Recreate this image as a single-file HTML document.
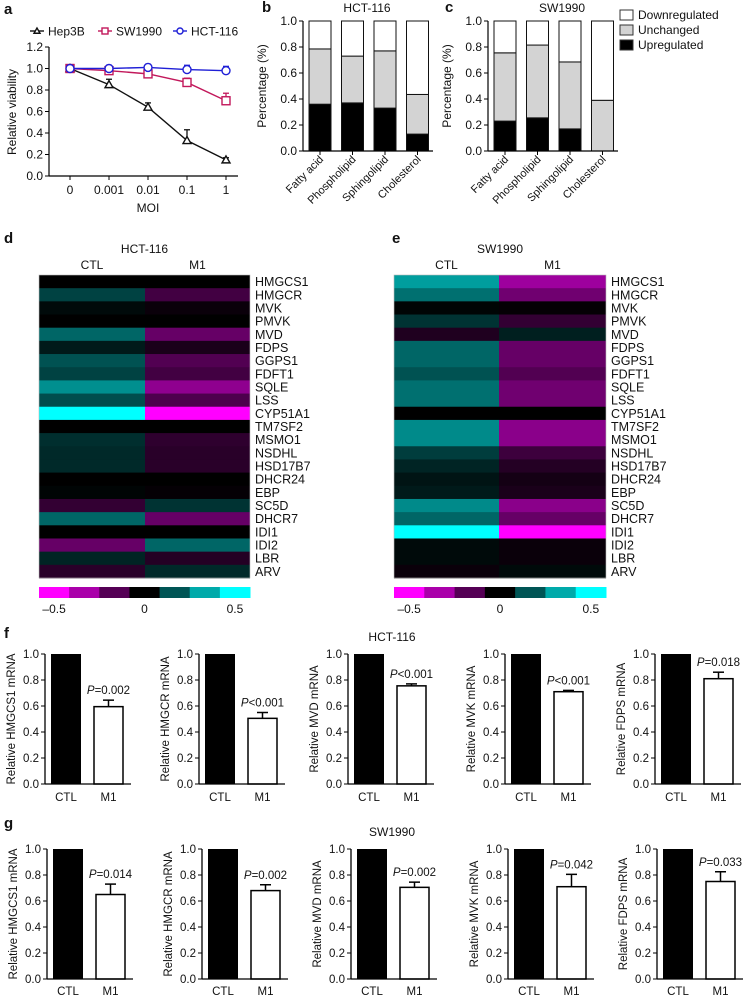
<!DOCTYPE html>
<html><head><meta charset="utf-8">
<style>
html,body{margin:0;padding:0;background:#fff;}
svg{display:block;font-family:"Liberation Sans",Arial,sans-serif;}
text{fill:#111;}
</style></head>
<body>
<svg id="fig" width="748" height="998" viewBox="0 0 748 998" xmlns="http://www.w3.org/2000/svg"></svg>
<script>
// ---------- Panel a data ----------
const moiLabels = ["0","0.001","0.01","0.1","1"];
const hep3b = [1.0,0.85,0.64,0.33,0.15];
const hep3bErr = [0.0,0.05,0.04,0.1,0.02];
const sw1990Via = [1.0,0.98,0.95,0.87,0.70];
const sw1990Err = [0.0,0.05,0.02,0.04,0.07];
const hct116Via = [1.0,1.0,1.01,0.99,0.98];
const hct116Err = [0.01,0.03,0.03,0.04,0.04];
const viaTicks = [0,0.2,0.4,0.6,0.8,1.0,1.2];
// ---------- Panel b/c data ----------
const lipidCats = ["Fatty acid","Phospholipid","Sphingolipid","Cholesterol"];
const hctUp = [0.36,0.37,0.33,0.13];
const hctUnch = [0.425,0.36,0.44,0.305];
const swUp = [0.23,0.255,0.17,0.0];
const swUnch = [0.525,0.56,0.515,0.39];
const pctTicks = [0,0.2,0.4,0.6,0.8,1.0];
// ---------- Heatmap data ----------
const genes = ["HMGCS1","HMGCR","MVK","PMVK","MVD","FDPS","GGPS1","FDFT1","SQLE","LSS","CYP51A1","TM7SF2","MSMO1","NSDHL","HSD17B7","DHCR24","EBP","SC5D","DHCR7","IDI1","IDI2","LBR","ARV"];
const hctCTL = [0.0,0.13,0.02,0.0,0.2,0.05,0.16,0.13,0.28,0.15,0.5,0.0,0.09,0.08,0.08,0.0,0.01,-0.1,0.2,0.0,-0.2,0.07,-0.08];
const hctM1 = [0.0,-0.13,-0.02,0.0,-0.2,-0.05,-0.16,-0.13,-0.28,-0.15,-0.5,0.0,-0.09,-0.08,-0.08,0.0,-0.01,0.1,-0.2,0.0,0.2,-0.07,0.08];
const swCTL = [0.31,0.22,0.01,0.1,-0.06,0.2,0.2,0.16,0.22,0.22,0.0,0.27,0.27,0.12,0.07,0.04,0.05,0.27,0.2,0.5,0.02,0.02,-0.02];
const swM1 = [-0.31,-0.22,-0.01,-0.1,0.06,-0.2,-0.2,-0.16,-0.22,-0.22,0.0,-0.27,-0.27,-0.12,-0.07,-0.04,-0.05,-0.27,-0.2,-0.5,-0.02,-0.02,0.02];
const scaleSteps = [-0.5,-0.3333,-0.1667,0,0.1667,0.3333,0.5];
// ---------- Panel f/g data ----------
const qGenes = ["HMGCS1","HMGCR","MVD","MVK","FDPS"];
const fM1 = [0.595,0.505,0.755,0.71,0.81];
const fErr = [0.05,0.045,0.015,0.01,0.05];
const fP = ["=0.002","<0.001","<0.001","<0.001","=0.018"];
const gM1 = [0.65,0.68,0.705,0.71,0.75];
const gErr = [0.08,0.045,0.04,0.095,0.075];
const gP = ["=0.014","=0.002","=0.002","=0.042","=0.033"];
const qTicks = [0,0.2,0.4,0.6,0.8,1.0];

const svg = document.getElementById('fig');
const NS = "http://www.w3.org/2000/svg";
function mk(tag, attrs, parent){
  const e = document.createElementNS(NS, tag);
  for (const k in attrs) e.setAttribute(k, attrs[k]);
  (parent||svg).appendChild(e);
  return e;
}
function txt(x,y,s,size,anchor,parent,extra){
  const t = mk('text',Object.assign({x:x,y:y,'font-size':size,'text-anchor':anchor||'start'},extra||{}),parent);
  t.textContent = s;
  return t;
}
function heatColor(v){
  const k = Math.round(Math.min(1,Math.abs(v)/0.5)*255);
  return v>=0 ? `rgb(0,${k},${k})` : `rgb(${k},0,${k})`;
}

// ---------- Panel labels ----------
[["a",4,14],["b",262,12],["c",445,12],["d",4,243],["e",392,243],["f",4,638],["g",4,828]].forEach(p=>{
  const t = txt(p[1],p[2],p[0],15,'start',svg,{'font-weight':'bold'});
  
  
});

// ---------- Panel a ----------
(function(){
  const g = mk('g',{});
  
  
  const x0=49, xEnd=238, yTop=47, yBot=176;
  const yS = v => yBot - v/1.2*(yBot-yTop);
  const xS = i => 70 + i*39;
  const ya = mk('line',{x1:x0,y1:yTop,x2:x0,y2:yBot,stroke:'#000','stroke-width':1.2},g);
  
  
  const xa = mk('line',{x1:x0,y1:yBot,x2:xEnd,y2:yBot,stroke:'#000','stroke-width':1.2},g);
  
  
  viaTicks.forEach(v=>{
    mk('line',{x1:x0-4,y1:yS(v),x2:x0,y2:yS(v),stroke:'#000','stroke-width':1},g);
    const t = txt(x0-6,yS(v)+4,v.toFixed(1),12,'end',g);
    
    
  });
  moiLabels.forEach((l,i)=>{
    mk('line',{x1:xS(i),y1:yBot,x2:xS(i),y2:yBot+4,stroke:'#000','stroke-width':1},g);
    const t = txt(xS(i),194,l,12,'middle',g);
    
    
  });
  const xt = txt(148,212,'MOI',12,'middle',g);
  
  
  const yt = txt(0,0,'Relative viability',12,'middle',g,{transform:'translate(16,112) rotate(-90)'});
  
  
  function marker(shape,x,y,col,parent,r){
    r = r||4;
    if(shape==='tri') return mk('polygon',{points:`${x},${y-r} ${x-r},${y+r*0.75} ${x+r},${y+r*0.75}`,fill:'#fff',stroke:col,'stroke-width':1.4},parent);
    if(shape==='sq') return mk('rect',{x:x-r,y:y-r,width:2*r,height:2*r,fill:'#fff',stroke:col,'stroke-width':1.4},parent);
    return mk('circle',{cx:x,cy:y,r:r,fill:'#fff',stroke:col,'stroke-width':1.4},parent);
  }
  const series = [
    {name:'hep3b',vals:hep3b,err:hep3bErr,col:'#111',shape:'tri'},
    {name:'sw1990',vals:sw1990Via,err:sw1990Err,col:'#c2185b',shape:'sq'},
    {name:'hct116',vals:hct116Via,err:hct116Err,col:'#1f1fd6',shape:'circ'}];
  series.forEach(s=>{
    const sg = mk('g',{},g);
    
    
    const pts = s.vals.map((v,i)=>xS(i)+','+yS(v)).join(' ');
    const pl = mk('polyline',{points:pts,fill:'none',stroke:s.col,'stroke-width':1.4},sg);
    
    
    s.vals.forEach((v,i)=>{
      if(s.err[i]>0){
        mk('line',{x1:xS(i),y1:yS(v),x2:xS(i),y2:yS(v+s.err[i]),stroke:s.col,'stroke-width':1.3},sg);
        mk('line',{x1:xS(i)-3,y1:yS(v+s.err[i]),x2:xS(i)+3,y2:yS(v+s.err[i]),stroke:s.col,'stroke-width':1.3},sg);
      }
      const m = marker(s.shape,xS(i),yS(v),s.col,sg);
      
      
    });
  });
  const leg = [[30,'Hep3B',series[0]],[98,'SW1990',series[1]],[173,'HCT-116',series[2]]];
  leg.forEach(l=>{
    const lg = mk('g',{},g);
    
    
    mk('line',{x1:l[0],y1:31,x2:l[0]+14,y2:31,stroke:l[2].col,'stroke-width':1.4},lg);
    marker(l[2].shape,l[0]+7,31,l[2].col,lg,3);
    txt(l[0]+18,35.5,l[1],12,'start',lg);
  });
})();

// ---------- Panels b/c ----------
function stackChart(x0,title,titleX,up,unch,name){
  const g = mk('g',{});
  
  
  const yTop=21,yBot=151,xEnd=x0+130;
  const yS = v => yBot - v*(yBot-yTop);
  const bx = i => x0+6+i*32.5;
  const bw = 22;
  lipidCats.forEach((c,i)=>{
    const u = mk('rect',{x:bx(i),y:yS(up[i]),width:bw,height:yBot-yS(up[i]),fill:'#000',stroke:'#111','stroke-width':1},g);
    
    
    const m = mk('rect',{x:bx(i),y:yS(up[i]+unch[i]),width:bw,height:yS(up[i])-yS(up[i]+unch[i]),fill:'#d3d3d3',stroke:'#111','stroke-width':1},g);
    
    
    const d = mk('rect',{x:bx(i),y:yTop,width:bw,height:yS(up[i]+unch[i])-yTop,fill:'#fff',stroke:'#111','stroke-width':1},g);
    
    
    const cx = bx(i)+bw/2;
    mk('line',{x1:cx,y1:yBot,x2:cx,y2:yBot+4,stroke:'#000','stroke-width':1},g);
    const t = txt(cx+4,160,c,11,'end',g,{transform:`rotate(-45 ${cx+4} 160)`});
    
    
  });
  mk('line',{x1:x0,y1:yTop,x2:x0,y2:yBot,stroke:'#000','stroke-width':1.2},g);
  mk('line',{x1:x0,y1:yBot,x2:xEnd,y2:yBot,stroke:'#000','stroke-width':1.2},g);
  pctTicks.forEach(v=>{
    mk('line',{x1:x0-4,y1:yS(v),x2:x0,y2:yS(v),stroke:'#000','stroke-width':1},g);
    const t = txt(x0-6,yS(v)+4,v.toFixed(1),12,'end',g);
    
    
  });
  const tt = txt(titleX,12,title,12,'middle',g);
  
  
  const yt = txt(0,0,'Percentage (%)',12,'middle',g,{transform:`translate(${x0-37},86) rotate(-90)`});
  
  
}
stackChart(303,'HCT-116',367,hctUp,hctUnch,'hct116-lipid-chart');
stackChart(488,'SW1990',562,swUp,swUnch,'sw1990-lipid-chart');
[["Downregulated","#fff",15],["Unchanged","#d3d3d3",30],["Upregulated","#000",45]].forEach(l=>{
  const lg = mk('g',{});
  
  
  mk('rect',{x:620,y:l[2]-5,width:13,height:10,fill:l[1],stroke:'#333','stroke-width':1},lg);
  txt(638,l[2]+4,l[0],12,'start',lg);
});

// ---------- Heatmaps ----------
function heatmap(x0,x1,xm,title,ctl,m1,name){
  const g = mk('g',{});
  
  
  const top=275,bot=578,rh=(bot-top)/genes.length;
  genes.forEach((gn,i)=>{
    const a = mk('rect',{x:x0,y:top+i*rh,width:xm-x0,height:rh+0.5,fill:heatColor(ctl[i])},g);
    
    
    const b = mk('rect',{x:xm,y:top+i*rh,width:x1-xm,height:rh+0.5,fill:heatColor(m1[i])},g);
    
    
    const t = txt(x1+5,top+i*rh+rh/2+4.5,gn,12.5,'start',g);
    
    
  });
  mk('rect',{x:x0,y:top,width:x1-x0,height:bot-top,fill:'none',stroke:'#bbb','stroke-width':0.6},g);
  const tt = txt((x0+x1)/2,253,title,12,'middle',g);
  
  
  const c1 = txt((x0+xm)/2,269,'CTL',12,'middle',g);
  
  
  const c2 = txt((xm+x1)/2,269,'M1',12,'middle',g);
  
  
  const sw=(x1-x0)/scaleSteps.length;
  scaleSteps.forEach((v,i)=>{
    const r = mk('rect',{x:x0+i*sw,y:587,width:sw+0.5,height:11,fill:heatColor(v)},g);
    
    
  });
  [[0,'\u20130.5'],[3,'0'],[6,'0.5']].forEach(p=>{
    const t = txt(x0+p[0]*sw+sw/2,613,p[1],12,'middle',g);
    
    
  });
}
heatmap(39,250,145,'HCT-116',hctCTL,hctM1,'hct116-heatmap');
heatmap(394,606,499,'SW1990',swCTL,swM1,'sw1990-heatmap');

// ---------- Panels f/g ----------
function barRow(yTop,yBot,axes,vals,errs,ps,lblY,title,titleY,name){
  const row = mk('g',{});
  
  
  const tt = txt(392,titleY,title,12,'middle',row);
  
  
  qGenes.forEach((gn,k)=>{
    const x0 = axes[k];
    const g = mk('g',{},row);
    
    
    const yS = v => yBot - v*(yBot-yTop);
    const b1 = mk('rect',{x:x0+6,y:yS(1),width:30,height:yBot-yS(1),fill:'#000'},g);
    
    
    const v = vals[k], e = errs[k];
    mk('line',{x1:x0+63.5,y1:yS(v),x2:x0+63.5,y2:yS(v+e),stroke:'#000','stroke-width':1.5},g);
    mk('line',{x1:x0+58,y1:yS(v+e),x2:x0+69,y2:yS(v+e),stroke:'#000','stroke-width':1.5},g);
    const b2 = mk('rect',{x:x0+49,y:yS(v),width:29,height:yBot-yS(v),fill:'#fff',stroke:'#000','stroke-width':1.5},g);
    
    
    mk('line',{x1:x0,y1:yTop,x2:x0,y2:yBot,stroke:'#000','stroke-width':1.3},g);
    mk('line',{x1:x0,y1:yBot,x2:x0+86,y2:yBot,stroke:'#000','stroke-width':1.3},g);
    qTicks.forEach(t=>{
      mk('line',{x1:x0-4,y1:yS(t),x2:x0,y2:yS(t),stroke:'#000','stroke-width':1},g);
      const tl = txt(x0-6,yS(t)+4,t.toFixed(1),11.5,'end',g);
      
      
    });
    const l1 = txt(x0+21,lblY,'CTL',11.5,'middle',g);
    
    
    const l2 = txt(x0+63.5,lblY,'M1',11.5,'middle',g);
    
    
    const pt = mk('text',{x:x0+63.5,y:Math.max(yS(v+e)-6,yTop+8),'font-size':11.5,'text-anchor':'middle'},g);
    
    
    const ts = document.createElementNS(NS,'tspan'); ts.setAttribute('font-style','italic'); ts.textContent='P'; pt.appendChild(ts);
    const ts2 = document.createElementNS(NS,'tspan'); ts2.textContent=ps[k]; pt.appendChild(ts2);
    const yt = txt(0,0,'Relative '+gn+' mRNA',11.5,'middle',g,{transform:`translate(${x0-30},${(yTop+yBot)/2}) rotate(-90)`});
    
    
  });
}
barRow(654,784,[45,199,348,505,655],fM1,fErr,fP,801,'HCT-116',641,'hct116-mrna-row');
barRow(849,979,[47,202,351,508,657],gM1,gErr,gP,995,'SW1990',836,'sw1990-mrna-row');
</script>
</body></html>
